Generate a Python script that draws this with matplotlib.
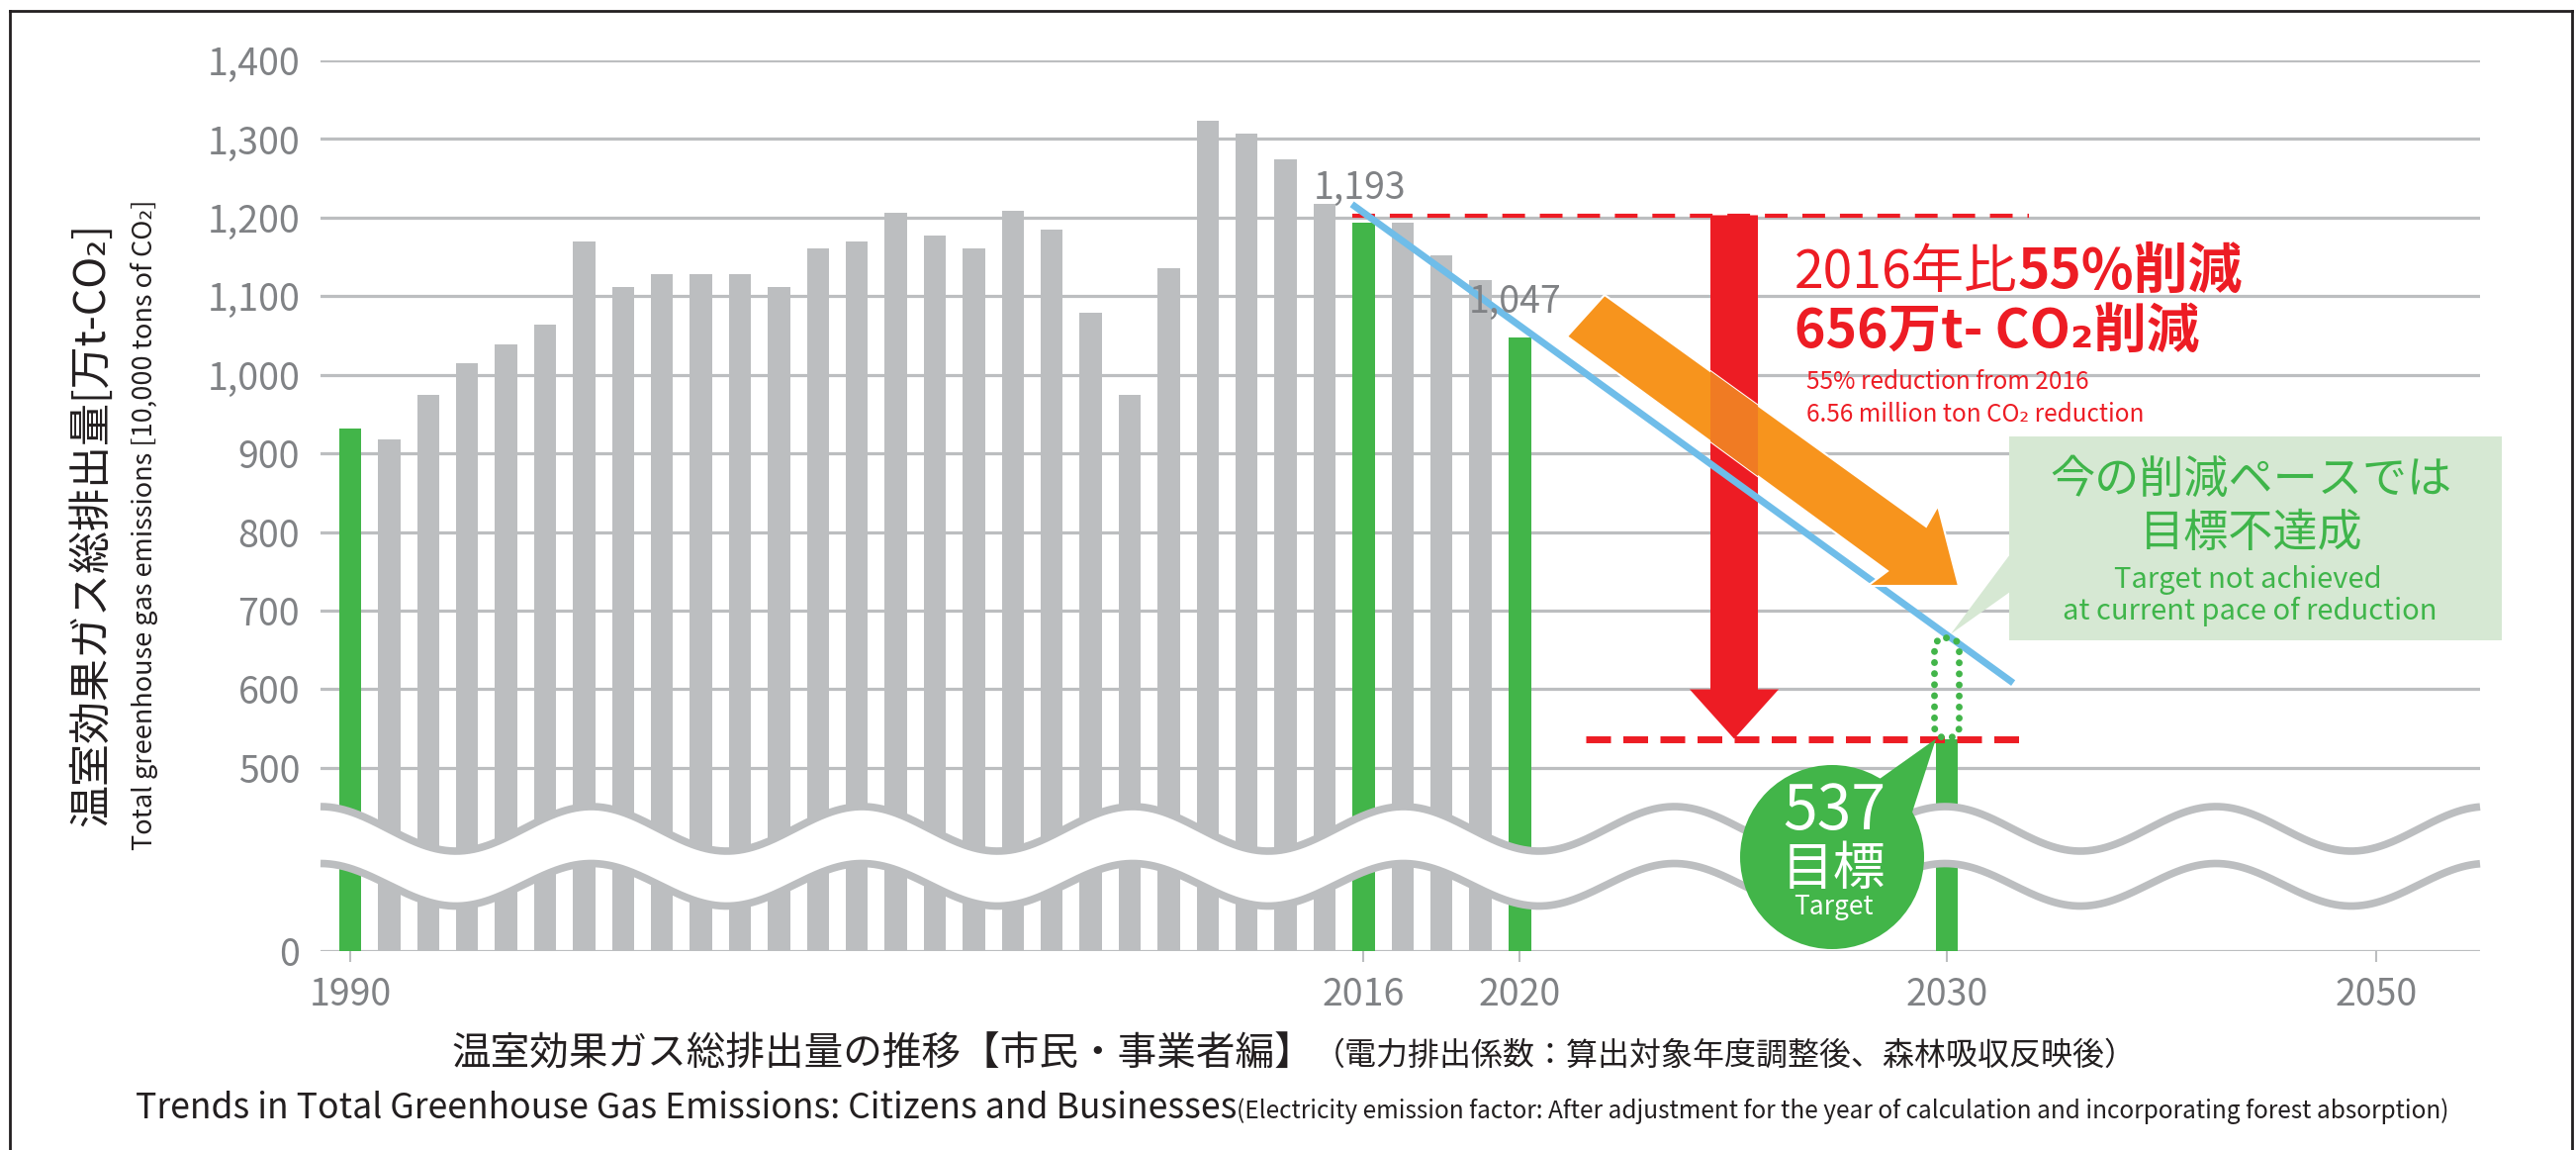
import numpy as np
import matplotlib
matplotlib.use("Agg")
import matplotlib.pyplot as plt
from matplotlib.patches import Polygon, Rectangle, Circle, FancyBboxPatch
from matplotlib.lines import Line2D
from matplotlib.transforms import Affine2D

plt.rcParams['font.family'] = ['Noto Sans CJK JP', 'DejaVu Sans']

# ---------------- data ----------------
years = list(range(1990, 2021))
emissions = [932, 918, 975, 1015, 1039, 1064, 1169, 1112, 1128, 1128,
             1128, 1112, 1161, 1169, 1206, 1177, 1161, 1209, 1185, 1079,
             975, 1136, 1323, 1307, 1274, 1218, 1193, 1193, 1152, 1121, 1047]
highlight_years = [1990, 2016, 2020]
target_year = 2030
target_value = 537
value_labels = {2016: 1193, 2020: 1047}
xtick_years = [1990, 2016, 2020, 2030, 2050]
ytick_values = [0, 500, 600, 700, 800, 900, 1000, 1100, 1200, 1300, 1400]
ytick_labels = ['0', '500', '600', '700', '800', '900', '1,000', '1,100', '1,200', '1,300', '1,400']
trend_years = [2015.7, 2032.73]
trend_values = [1217, 608]
level_2016_line = [2015.7, 2033.5]
level_2016 = 1202
target_line = [2021.55, 2033.5]
reduction_year = 2025
reduction_from, reduction_to = 1203, 537

# ---------------- style ----------------
W, H = 2604, 1162
GREY = '#bcbec0'
GRID = '#bcbec0'
GREEN = '#42b549'
RED = '#ed1c24'
BLUE = '#6fbde9'
ORANGE = '#f7941d'
BOX = '#d6e8d3'
GTEXT = '#3fb54a'
TICK = '#808285'
DARK = '#231f20'

fig = plt.figure(figsize=(W / 100, H / 100), dpi=100)
fig.patch.set_facecolor('white')
PX = Affine2D().scale(1.0 / W, -1.0 / H).translate(0, 1) + fig.transFigure

ax = fig.add_axes([324 / W, 1 - 961 / H, (2507 - 324) / W, 900 / H])

# piecewise x scale (the original axis is not uniform in time)
X_YR = np.array([1900.0, 2020.0, 2029.5, 2030.5, 2050.0, 2150.0])
X_PX = np.array([354 - 90 * 39.4, 1536.0, 1948.3, 1987.7, 2402.0, 2402 + 100 * 21.25])


def xf(x):
    return np.interp(np.asarray(x, float), X_YR, X_PX)


def xi(p):
    return np.interp(np.asarray(p, float), X_PX, X_YR)


# broken y axis: 0..500 compressed
def yf(v):
    v = np.asarray(v, float)
    return np.where(v >= 500, v, 267 + v * 233 / 500)


def yi(u):
    u = np.asarray(u, float)
    return np.where(u >= 500, u, (u - 267) * 500 / 233)


ax.set_xscale('function', functions=(xf, xi))
ax.set_yscale('function', functions=(yf, yi))
ax.set_xlim(1989.239, 2054.94)
ax.set_ylim(0, 1400)
ax.set_autoscale_on(False)
for s in ax.spines.values():
    s.set_visible(False)
ax.patch.set_alpha(0)

# grid
for v in ytick_values:
    ax.axhline(v, color=GRID, lw=2.3, zorder=1)

# bars
colors = [GREEN if y in highlight_years else GREY for y in years]
ax.bar(years, emissions, width=0.57, color=colors, zorder=2, linewidth=0)
ax.bar([target_year], [target_value], width=0.57, color=GREEN, zorder=2, linewidth=0)

# ticks
ax.set_xticks(xtick_years)
ax.set_xticklabels([str(y) for y in xtick_years])
ax.set_yticks(ytick_values)
ax.set_yticklabels(ytick_labels)
ax.tick_params(axis='x', length=8, width=1.5, color=GRID, pad=10, labelsize=27, labelcolor=TICK)
ax.tick_params(axis='y', length=0, pad=15, labelsize=27, labelcolor=TICK)

# value labels
for yr, val in value_labels.items():
    ax.annotate(f'{val:,}', xy=(yr, val), xytext=(-3, 18), textcoords='offset points',
                ha='center', va='baseline', fontsize=27, color=TICK, zorder=6)

# dashed reference lines
ax.plot(level_2016_line, [level_2016, level_2016], color=RED, lw=3, dashes=(5.5, 3.6), zorder=4)
ax.plot(target_line, [target_value, target_value], color=RED, lw=5, dashes=(3.6, 1.8), zorder=4)

# trend line
ax.plot(trend_years, trend_values, color=BLUE, lw=5, solid_capstyle='butt', zorder=5)


def d2p(x, y):
    pts = ax.transData.transform(np.array([[x, y]], float))
    return pts[0, 0], H - pts[0, 1]


# red reduction arrow
rx, rtop = d2p(reduction_year, reduction_from)
_, rtip = d2p(reduction_year, reduction_to)
hw, sw, hl = 45, 24, 50
red_pts = [(rx - sw, rtop), (rx + sw, rtop), (rx + sw, rtip - hl), (rx + hw, rtip - hl),
           (rx, rtip), (rx - hw, rtip - hl), (rx - sw, rtip - hl)]
red_arrow = Polygon(red_pts, closed=True, transform=PX, fc=RED, ec='none', zorder=4, clip_on=False)
ax.add_patch(red_arrow)

# orange trend arrow (decoration)
orange_pts = [(1622, 298), (1947, 532), (1959, 511), (1980, 592), (1888, 592), (1908, 577), (1584, 340)]
ax.add_patch(Polygon(orange_pts, closed=True, transform=PX, fc=ORANGE, ec='white', lw=1.5,
                     zorder=6, clip_on=False))
ov = Polygon(orange_pts, closed=True, transform=PX, fc='#f07b23', ec='none', zorder=6.1)
ax.add_patch(ov)
ov.set_clip_path(red_arrow)

# axis break waves
xs = np.linspace(324, 2507, 1400)
ph = 2 * np.pi * (xs - 324) / 273.7
up = 837.5 - 22.5 * np.cos(ph)
lo = 894 - 21.5 * np.cos(ph)
ax.add_patch(Polygon(np.column_stack([np.r_[xs, xs[::-1]], np.r_[up, lo[::-1]]]), closed=True,
                     transform=PX, fc='white', ec='none', zorder=3, clip_on=False))
ax.plot(xs, up, transform=PX, color=GRID, lw=5.5, zorder=3.1, clip_on=False, solid_capstyle='butt')
ax.plot(xs, lo, transform=PX, color=GRID, lw=5.5, zorder=3.1, clip_on=False, solid_capstyle='butt')

# dotted capsule around 2030 gap
tx, ttop = d2p(target_year, trend_values[0] + (trend_values[1] - trend_values[0]) *
               (xf(target_year) - xf(trend_years[0])) / (xf(trend_years[1]) - xf(trend_years[0])))
_, tbot = d2p(target_year, target_value)
cap = FancyBboxPatch((tx - 12.5, ttop + 3), 25, tbot - ttop - 4,
                     boxstyle='round,pad=0,rounding_size=12', transform=PX,
                     fc='none', ec=GREEN, lw=5, linestyle=(0, (0.01, 1.6)), zorder=7, clip_on=False)
cap.set_capstyle('round')
ax.add_patch(cap)

# target bubble
ax.add_patch(Polygon([(1893, 792), (1930, 830), (tx - 11, tbot)], closed=True, transform=PX,
                     fc=GREEN, ec='none', zorder=8, clip_on=False))
ax.add_patch(Circle((1852, 866), 93, transform=PX, fc=GREEN, ec='none', zorder=8, clip_on=False))
fig.text(1854, 838, f'{target_value}', transform=PX, ha='center', va='baseline', fontsize=45,
         color='white', zorder=9)
fig.text(1853, 894, '目標', transform=PX, ha='center', va='baseline', fontsize=38,
         color='white', zorder=9)
fig.text(1853, 924, 'Target', transform=PX, ha='center', va='baseline', fontsize=19,
         color='white', zorder=9)

# callout box
ax.add_patch(Rectangle((2031, 441), 498, 206, transform=PX, fc=BOX, ec='none', zorder=7, clip_on=False))
ax.add_patch(Polygon([(2032, 560), (2032, 598), (tx + 4, ttop - 1)], closed=True, transform=PX,
                     fc=BOX, ec='none', zorder=7, clip_on=False))
fig.text(2275, 498, '今の削減ペースでは', transform=PX, ha='center', va='baseline', fontsize=32.5, color=GTEXT)
fig.text(2276, 552, '目標不達成', transform=PX, ha='center', va='baseline', fontsize=32.5, color=GTEXT)
fig.text(2272, 594, 'Target not achieved', transform=PX, ha='center', va='baseline', fontsize=21, color=GTEXT)
fig.text(2274, 626, 'at current pace of reduction', transform=PX, ha='center', va='baseline', fontsize=21, color=GTEXT)

renderer = fig.canvas.get_renderer()

# red headline
t1 = fig.text(1814, 291, '2016年比', transform=PX, ha='left', va='baseline', fontsize=38.5, color=RED)
bb = t1.get_window_extent(renderer)
fig.text(bb.x1 / W, 1 - 291 / H, '55%削減', ha='left', va='baseline', fontsize=39.5,
         fontweight='bold', color=RED)
fig.text(1814, 351, '656万t- CO₂削減', transform=PX, ha='left', va='baseline', fontsize=38.5,
         fontweight='bold', color=RED)
fig.text(1826, 393, '55% reduction from 2016', transform=PX, ha='left', va='baseline', fontsize=17.5, color=RED)
fig.text(1826, 426, '6.56 million ton CO₂ reduction', transform=PX, ha='left', va='baseline', fontsize=17.5, color=RED)

# axis titles
fig.text(93, 530, '温室効果ガス総排出量[万t-CO₂]', transform=PX, rotation=90, ha='center', va='center',
         fontsize=31, color=DARK)
fig.text(146, 530, 'Total greenhouse gas emissions [10,000 tons of CO₂]', transform=PX, rotation=90,
         ha='center', va='center', fontsize=19.5, color=DARK)

# bottom titles
j1 = fig.text(456, 1077, '温室効果ガス総排出量の推移【市民・事業者編】', transform=PX, ha='left',
              va='baseline', fontsize=28.5, color=DARK)
bb = j1.get_window_extent(renderer)
fig.text(bb.x1 / W, 1 - 1076 / H, '（電力排出係数：算出対象年度調整後、森林吸収反映後）', ha='left',
         va='baseline', fontsize=23, color=DARK)
e1 = fig.text(137, 1130, 'Trends in Total Greenhouse Gas Emissions: Citizens and Businesses', transform=PX,
              ha='left', va='baseline', fontsize=25.6, color=DARK)
bb = e1.get_window_extent(renderer)
fig.text(bb.x1 / W, 1 - 1130 / H,
         '(Electricity emission factor: After adjustment for the year of calculation and incorporating forest absorption)',
         ha='left', va='baseline', fontsize=17.6, color=DARK)

# outer frame
for xd, yd in [([10, 10], [H, 11]), ([10, 2600], [11, 11]), ([2600, 2600], [11, H])]:
    fig.add_artist(Line2D(xd, yd, transform=PX, color=DARK, lw=2))

fig.savefig('out.png', dpi=100, facecolor='white')
